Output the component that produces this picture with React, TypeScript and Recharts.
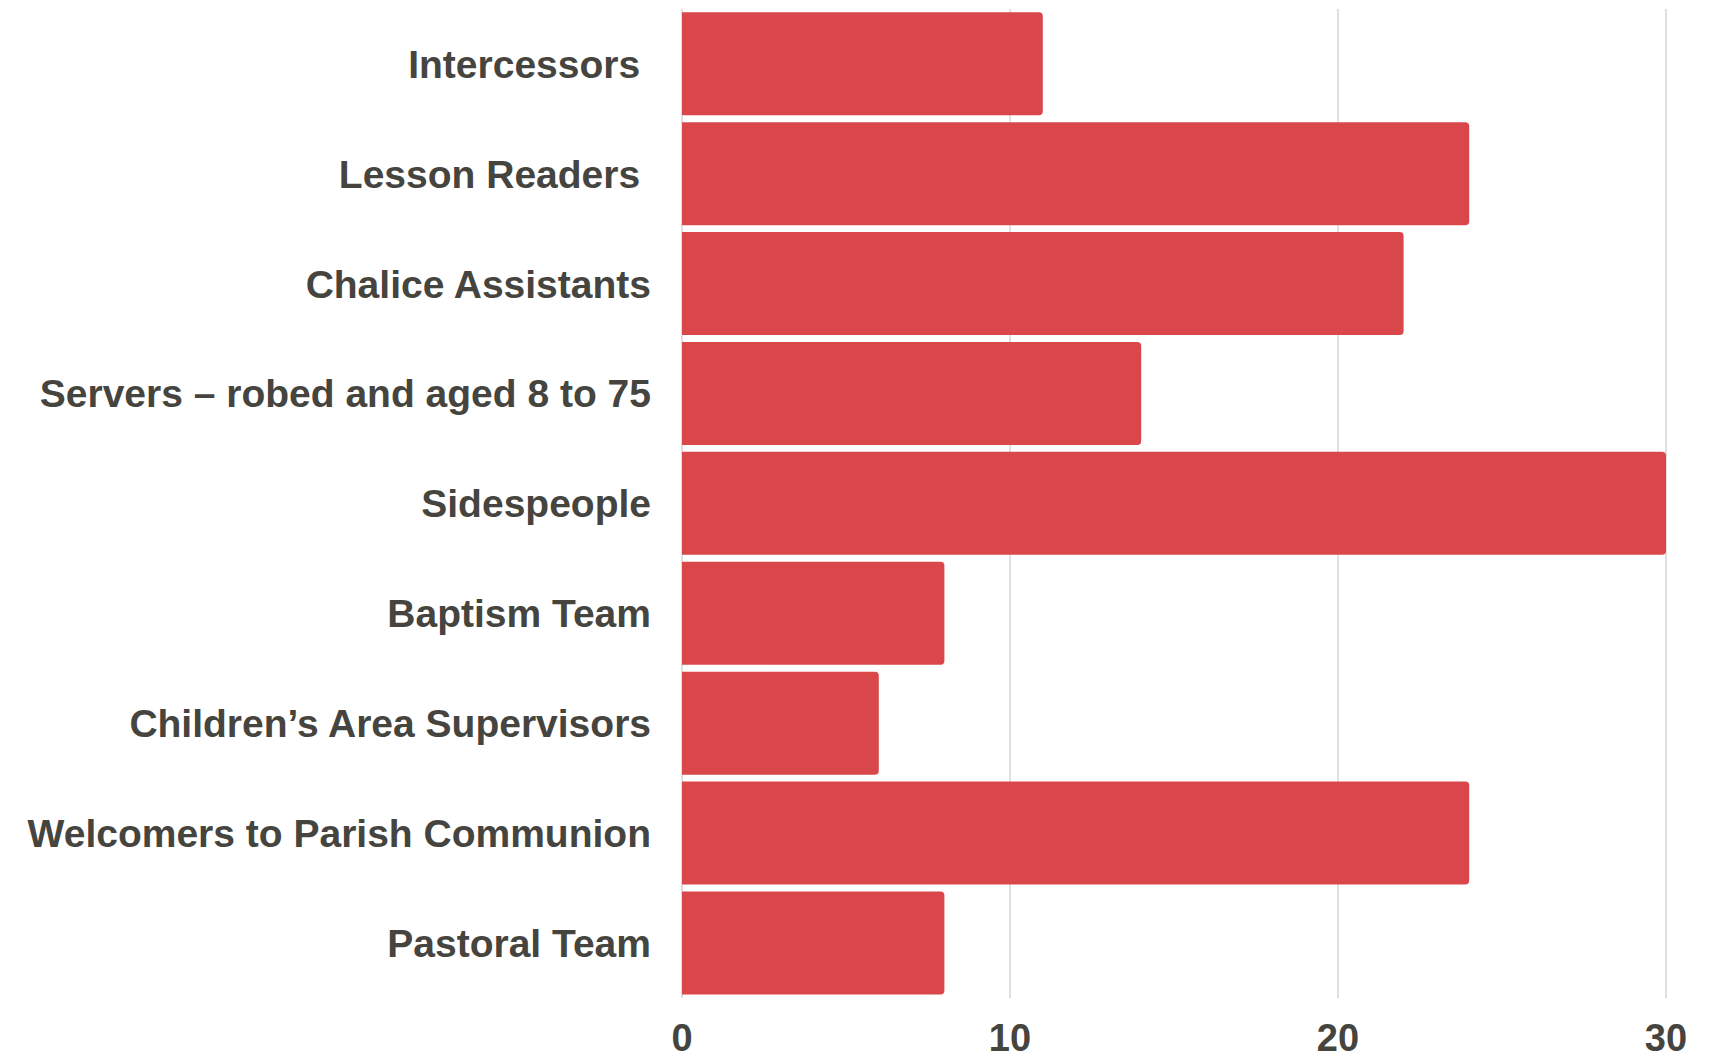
import { BarChart, Bar, XAxis, YAxis, CartesianGrid } from 'recharts';

// ministry teams and how many people serve in each
const teams = [
  'Intercessors ',
  'Lesson Readers ',
  'Chalice Assistants',
  'Servers \u2013 robed and aged 8 to 75',
  'Sidespeople',
  'Baptism Team',
  'Children\u2019s Area Supervisors',
  'Welcomers to Parish Communion',
  'Pastoral Team',
];
const volunteers = [11, 24, 22, 14, 30, 8, 6, 24, 8];
const xTicks = [0, 10, 20, 30];

const TEXT = '#45443e';
const FONT = '"Liberation Sans", Arial, sans-serif';

const TeamTick = (props: any) => {
  const { x, y, payload } = props;
  return (
    <text
      x={x}
      y={y}
      dy="0.355em"
      textAnchor="end"
      fill={TEXT}
      fontSize={39}
      fontWeight="bold"
      fontFamily={FONT}
      style={{ whiteSpace: 'pre' }}
    >
      {payload.value}
    </text>
  );
};

export default function App() {
  const data = teams.map((team, i) => ({ team, count: volunteers[i] }));

  return (
    <div style={{ position: 'absolute', left: 0, top: 0, width: 1710, height: 1055, background: '#fff' }}>
      <BarChart
        width={1710}
        height={1055}
        data={data}
        layout="vertical"
        margin={{ top: 9, right: 44, bottom: 0, left: 0 }}
        barCategoryGap="3%"
      >
        <CartesianGrid horizontal={false} stroke="#cccccc" strokeWidth={1.2} />
        <XAxis
          type="number"
          domain={[0, 30]}
          ticks={xTicks}
          height={57}
          axisLine={false}
          tickLine={false}
          tickSize={0}
          tickMargin={26}
          tick={{ fill: TEXT, fontSize: 38, fontWeight: 'bold', fontFamily: FONT }}
        />
        <YAxis
          type="category"
          dataKey="team"
          width={682}
          axisLine={false}
          tickLine={false}
          tickSize={0}
          tickMargin={31}
          interval={0}
          tick={<TeamTick />}
        />
        <Bar dataKey="count" fill="#d9474a" radius={[0, 4, 4, 0]} isAnimationActive={false} />
      </BarChart>
    </div>
  );
}
